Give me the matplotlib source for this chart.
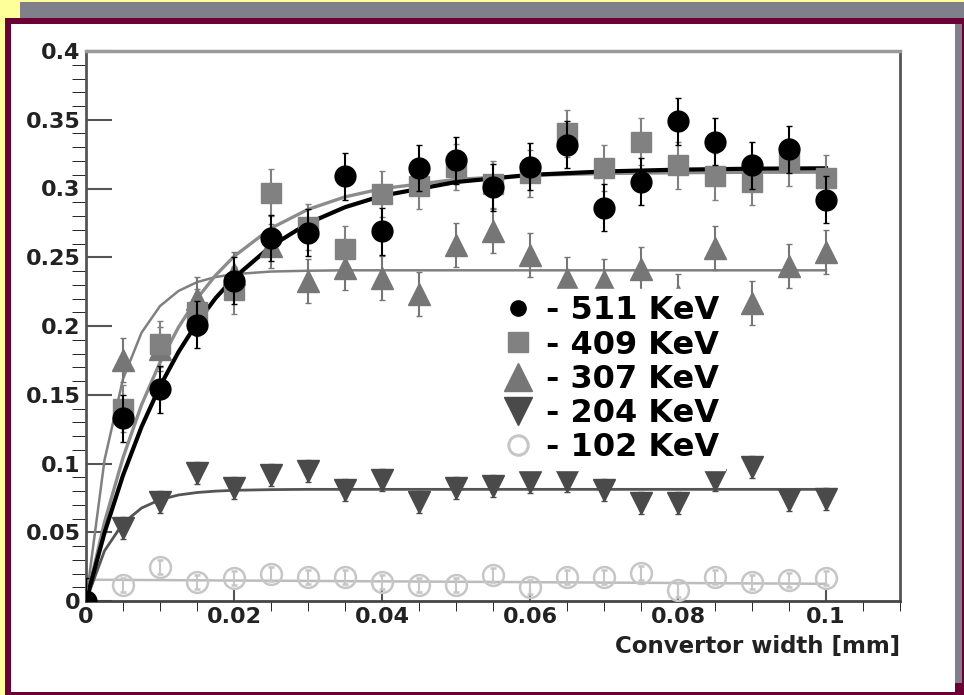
import matplotlib.pyplot as plt
from matplotlib.patches import Rectangle
from matplotlib.lines import Line2D
import numpy as np

W, H = 964, 695
nan = np.nan

# converter width [mm]
widths = [0.000, 0.005, 0.010, 0.015, 0.020, 0.025, 0.030, 0.035, 0.040, 0.045, 0.050,
          0.055, 0.060, 0.065, 0.070, 0.075, 0.080, 0.085, 0.090, 0.095, 0.100]

kev511 = [0.0, 0.133, 0.154, 0.201, 0.233, 0.264, 0.268, 0.309, 0.269, 0.315, 0.3205,
          0.301, 0.316, 0.332, 0.286, 0.305, 0.349, 0.334, 0.317, 0.3285, 0.292]
kev409 = [nan, 0.140, 0.187, 0.210, 0.226, 0.297, 0.272, 0.256, 0.296, 0.302, 0.3156,
          0.303, 0.311, 0.340, 0.315, 0.334, 0.317, 0.309, 0.305, 0.319, 0.3076]
kev307 = [nan, 0.175, 0.183, 0.220, 0.238, 0.258, 0.2328, 0.2425, 0.235, 0.2236, 0.2587,
          0.269, 0.252, 0.2345, 0.2328, 0.2418, 0.222, 0.257, 0.2166, 0.244, 0.254]
kev204 = [nan, 0.0528, 0.072, 0.0928, 0.0819, 0.092, 0.0947, 0.0807, 0.0879, 0.0717, 0.0819,
          0.0838, 0.0867, 0.0874, 0.0807, 0.071, 0.071, 0.0879, 0.0976, 0.0734, 0.0741]
kev102 = [nan, 0.0116, 0.025, 0.014, 0.0165, 0.0196, 0.0177, 0.0177, 0.014, 0.0116, 0.0116,
          0.0189, 0.0104, 0.0172, 0.0172, 0.0206, 0.008, 0.0177, 0.014, 0.0153, 0.0165]

err511 = 0.017
err409 = 0.017
err307 = 0.016
err204 = 0.008
err102 = 0.005

# fitted curves
fit_x = [0.0, 0.0025, 0.005, 0.0075, 0.01, 0.0125, 0.015, 0.0175, 0.02, 0.025, 0.03,
         0.035, 0.04, 0.05, 0.06, 0.07, 0.08, 0.09, 0.1]
fit511 = [0.0, 0.0496, 0.0914, 0.1266, 0.1562, 0.1811, 0.2022, 0.2202, 0.235, 0.258, 0.2747,
          0.2864, 0.2947, 0.3047, 0.3099, 0.3124, 0.3137, 0.3144, 0.3147]
fit409 = [0.0, 0.0573, 0.1042, 0.1426, 0.1735, 0.1991, 0.22, 0.2368, 0.2506, 0.2711, 0.2848,
          0.2939, 0.2999, 0.3066, 0.3096, 0.3109, 0.3115, 0.3118, 0.3119]
fit307 = [0.0, 0.1025, 0.1614, 0.1951, 0.2145, 0.2255, 0.2319, 0.2356, 0.2377, 0.2396, 0.2402,
          0.2405, 0.2405, 0.2405, 0.2405, 0.2405, 0.2405, 0.2405, 0.2405]
fit204 = [0.0, 0.0365, 0.0565, 0.0676, 0.0737, 0.0771, 0.0789, 0.0799, 0.0805, 0.081, 0.0812,
          0.0812, 0.0812, 0.0812, 0.0812, 0.0812, 0.0812, 0.0812, 0.0812]
fit102_x = [0.0, 0.05, 0.1]
fit102 = [0.0155, 0.014, 0.0125]

yticks = [0, 0.05, 0.1, 0.15, 0.2, 0.25, 0.3, 0.35, 0.4]
ylabels = ["0", "0.05", "0.1", "0.15", "0.2", "0.25", "0.3", "0.35", "0.4"]
xticks = [0, 0.02, 0.04, 0.06, 0.08, 0.1]
xlabels = ["0", "0.02", "0.04", "0.06", "0.08", "0.1"]

labels = ["- 511 KeV", "- 409 KeV", "- 307 KeV", "- 204 KeV", "- 102 KeV"]


def px_rect(fig, x0, y0, x1, y1, color):
    # rectangle given in pixel coords, origin top-left
    fig.add_artist(Rectangle((x0 / W, 1 - y1 / H), (x1 - x0) / W, (y1 - y0) / H,
                             transform=fig.transFigure, color=color, zorder=-10, lw=0))


fig = plt.figure(figsize=(W / 100, H / 100), dpi=100)
fig.patch.set_facecolor("#ffff99")
px_rect(fig, 20, 2, 964, 690, "#80808a")
px_rect(fig, 5, 18, 964, 695, "#6b0034")
px_rect(fig, 11, 24, 955, 692, "white")
px_rect(fig, 955, 24, 962, 683, "#80808a")

ax = fig.add_axes([86 / W, 1 - 601 / H, (900 - 86) / W, (601 - 51) / H])
ax.set_facecolor("none")

# fit curves
ax.plot(fit102_x, fit102, color="#bcbcbc", lw=1.8, zorder=2)
ax.plot(fit_x, fit204, color="#555555", lw=2.0, zorder=2)
ax.plot(fit_x, fit307, color="#808080", lw=1.8, zorder=2)
ax.plot(fit_x, fit409, color="#8c8c8c", lw=2.4, zorder=2)
ax.plot(fit_x, fit511, color="black", lw=3.0, zorder=2.5)

# data points
ax.errorbar(widths, kev102, yerr=err102, fmt="o", ms=15, mfc="none", mec="#c6c6c6",
            mew=1.8, ecolor="#c6c6c6", elinewidth=1.5, capsize=2.5, zorder=3)
ax.errorbar(widths, kev204, yerr=err204, fmt="v", ms=16, color="#4a4a4a",
            elinewidth=1.5, capsize=2.5, zorder=3)
ax.errorbar(widths, kev307, yerr=err307, fmt="^", ms=16, color="#767676",
            elinewidth=1.5, capsize=2.5, zorder=3)
ax.errorbar(widths, kev409, yerr=err409, fmt="s", ms=15, color="#818181",
            elinewidth=1.5, capsize=2.5, zorder=3)
ax.errorbar(widths, kev511, yerr=err511, fmt="o", ms=15, color="black",
            elinewidth=1.5, capsize=2.5, zorder=4)

ax.set_xlim(0, 0.11)
ax.set_ylim(0, 0.4)
ax.set_xticks(xticks, xlabels)
ax.set_xticks(np.arange(0, 0.1101, 0.005), minor=True)
ax.set_yticks(yticks, ylabels)
ax.set_yticks(np.arange(0, 0.401, 0.01), minor=True)
ax.tick_params(direction="in", color="#555555", width=1.5)
ax.tick_params(axis="y", which="major", length=19, pad=4)
ax.tick_params(axis="y", which="minor", length=10)
ax.tick_params(axis="x", which="major", length=9, pad=4)
ax.tick_params(axis="x", which="minor", length=7)
for lab in ax.get_xticklabels() + ax.get_yticklabels():
    lab.set_fontsize(16)
    lab.set_fontweight("bold")
    lab.set_color("#222222")

ax.spines["left"].set_color("#555555")
ax.spines["left"].set_linewidth(2)
ax.spines["bottom"].set_color("#444444")
ax.spines["bottom"].set_linewidth(2)
ax.spines["top"].set_color("#9a9a9a")
ax.spines["top"].set_linewidth(2.5)
ax.spines["right"].set_color("#555555")
ax.spines["right"].set_linewidth(2)

ax.set_xlabel("Convertor width [mm]", loc="right", fontsize=16.5, fontweight="bold",
              color="#222222", labelpad=6)

handles = [
    Line2D([], [], ls="none", marker="o", ms=11, color="black"),
    Line2D([], [], ls="none", marker="s", ms=14, color="#818181"),
    Line2D([], [], ls="none", marker="^", ms=20, color="#767676"),
    Line2D([], [], ls="none", marker="v", ms=20, color="#4a4a4a"),
    Line2D([], [], ls="none", marker="o", ms=14, mfc="none", mec="#c6c6c6", mew=2.2),
]
leg = ax.legend(handles, labels, loc="upper left", bbox_to_anchor=(496 / W, 1 - 289 / H),
                bbox_transform=fig.transFigure, prop={"weight": "bold", "size": 23},
                frameon=True, facecolor="white", edgecolor="white", framealpha=1,
                fancybox=False, borderpad=0.2, borderaxespad=0, handlelength=1.0,
                handletextpad=0.35, labelspacing=0.1)
leg.set_zorder(5)

fig.savefig("out.png", dpi=100, facecolor=fig.get_facecolor())
